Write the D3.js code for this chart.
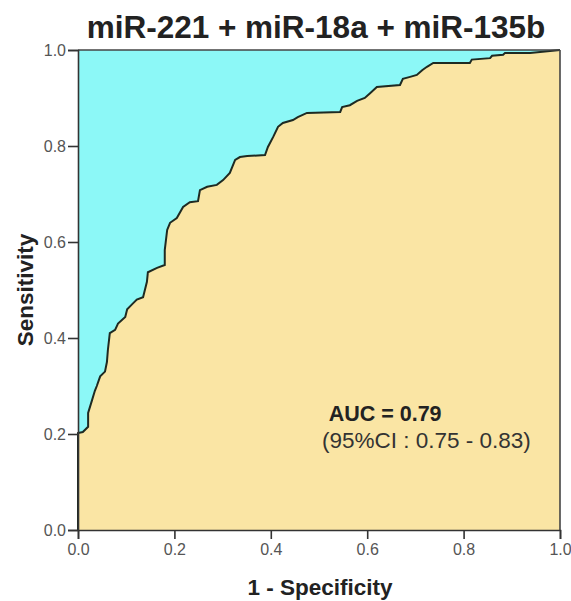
<!DOCTYPE html>
<html>
<head>
  <style>
    html, body { margin: 0; padding: 0; background: #fff; }
    svg { font-family: "Liberation Sans", Arial, sans-serif; }
    .tick text { fill: #555; font-size: 16px; }
    .tick line, .domain { stroke: #333; stroke-width: 1.6px; }
  </style>
</head>
<body>
  <svg id="roc" width="571" height="601"></svg>

  <script src="https://d3js.org/d3.v7.min.js"></script>
  <script>
    // ROC curve vertices
    const fpr = [0, 0, 0, 0.010, 0.021, 0.021, 0.029, 0.035, 0.039, 0.046, 0.056, 0.060, 0.062, 0.066,
                 0.077, 0.083, 0.098, 0.102, 0.112, 0.122, 0.135, 0.143, 0.145, 0.164, 0.180, 0.180,
                 0.185, 0.191, 0.205, 0.218, 0.232, 0.249, 0.253, 0.268, 0.288, 0.301, 0.315, 0.326,
                 0.336, 0.351, 0.388, 0.394, 0.405, 0.415, 0.425, 0.446, 0.456, 0.475, 0.544, 0.548,
                 0.564, 0.579, 0.595, 0.606, 0.620, 0.668, 0.674, 0.689, 0.703, 0.714, 0.724, 0.737,
                 0.813, 0.817, 0.855, 0.859, 0.882, 0.886, 0.938, 1];
    const tpr = [0, 0.177, 0.202, 0.204, 0.215, 0.244, 0.270, 0.290, 0.300, 0.320, 0.330, 0.350, 0.375, 0.410,
                 0.417, 0.430, 0.444, 0.460, 0.470, 0.480, 0.485, 0.517, 0.537, 0.546, 0.552, 0.583,
                 0.625, 0.640, 0.650, 0.673, 0.683, 0.685, 0.708, 0.715, 0.719, 0.729, 0.744, 0.771,
                 0.777, 0.779, 0.781, 0.798, 0.819, 0.840, 0.848, 0.854, 0.860, 0.869, 0.871, 0.881,
                 0.885, 0.894, 0.900, 0.910, 0.923, 0.927, 0.940, 0.944, 0.948, 0.958, 0.965, 0.973,
                 0.973, 0.980, 0.983, 0.988, 0.990, 0.994, 0.994, 1];
    const ticks = [0, 0.2, 0.4, 0.6, 0.8, 1.0];
    const title = "miR-221 + miR-18a + miR-135b";
    const aucText = "AUC = 0.79";
    const ciText = "(95%CI : 0.75 - 0.83)";

    const margin = { top: 50, right: 11, bottom: 71, left: 78 };
    const width = 571 - margin.left - margin.right;
    const height = 601 - margin.top - margin.bottom;

    const svg = d3.select("#roc");
    const g = svg.append("g").attr("transform", `translate(${margin.left},${margin.top})`);

    const x = d3.scaleLinear().domain([0, 1]).range([0, width]);
    const y = d3.scaleLinear().domain([0, 1]).range([height, 0]);

    const pts = fpr.map((f, i) => [f, tpr[i]]);

    // background above the curve
    g.append("rect")
     .attr("x", x(0)).attr("y", y(1))
     .attr("width", x(1) - x(0)).attr("height", y(0) - y(1))
     .attr("fill", "#8cf8f7");

    // area under the curve
    g.append("path")
     .datum(pts)
     .attr("fill", "#fae5a4")
     .attr("d", d3.area().x(d => x(d[0])).y0(y(0)).y1(d => y(d[1])));

    g.append("path")
     .datum(pts)
     .attr("fill", "none")
     .attr("stroke", "#1e2a22")
     .attr("stroke-width", 2)
     .attr("d", d3.line().x(d => x(d[0])).y(d => y(d[1])));

    // frame top / right
    g.append("line").attr("x1", x(0)).attr("x2", x(1)).attr("y1", y(1)).attr("y2", y(1))
     .attr("stroke", "#444").attr("stroke-width", 1.6);
    g.append("line").attr("x1", x(1)).attr("x2", x(1)).attr("y1", y(1)).attr("y2", y(0))
     .attr("stroke", "#444").attr("stroke-width", 1.6);

    // axes
    g.append("g")
     .attr("transform", `translate(0,${height})`)
     .call(d3.axisBottom(x).tickValues(ticks).tickFormat(d3.format(".1f")).tickSize(9).tickPadding(5));
    g.append("g")
     .call(d3.axisLeft(y).tickValues(ticks).tickFormat(d3.format(".1f")).tickSize(10).tickPadding(2));
    g.selectAll(".tick text").attr("font-family", null).attr("font-size", null);

    // texts
    svg.append("text")
       .attr("x", 316).attr("y", 38)
       .attr("text-anchor", "middle")
       .style("font-size", "31.5px").style("font-weight", "bold").style("fill", "#222")
       .text(title);

    svg.append("text")
       .attr("x", 320).attr("y", 595)
       .attr("text-anchor", "middle")
       .style("font-size", "22.5px").style("font-weight", "bold").style("fill", "#222")
       .text("1 - Specificity");

    svg.append("text")
       .attr("transform", "translate(33,290) rotate(-90)")
       .attr("text-anchor", "middle")
       .style("font-size", "22.5px").style("font-weight", "bold").style("fill", "#222")
       .text("Sensitivity");

    g.append("text")
     .attr("x", x(0.52)).attr("y", y(0.227))
     .style("font-size", "21.5px").style("font-weight", "bold").style("fill", "#222")
     .text(aucText);
    g.append("text")
     .attr("x", x(0.506)).attr("y", y(0.171))
     .style("font-size", "22.5px").style("fill", "#333")
     .text(ciText);
  </script>
</body>
</html>
